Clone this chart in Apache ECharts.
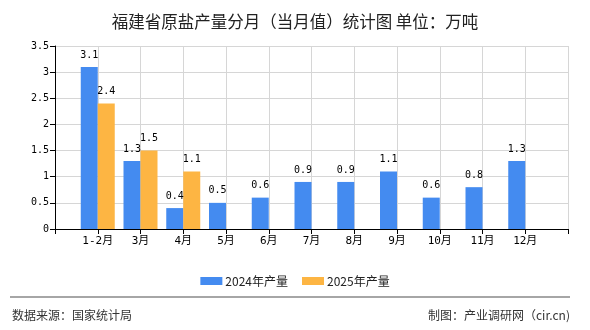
<!DOCTYPE html>
<html>
<head>
<meta charset="utf-8">
<script src="https://cdn.jsdelivr.net/npm/echarts@6/dist/echarts.min.js"></script>
<style>
html,body{margin:0;padding:0;background:#fff;}
#c{width:590px;height:330px;}
</style>
</head>
<body>
<div id="c"></div>
<script>
const titleText = '福建省原盐产量分月（当月值）统计图 单位：万吨';
const categories = ['1-2月','3月','4月','5月','6月','7月','8月','9月','10月','11月','12月'];
const seriesNames = ['2024年产量','2025年产量'];
const values2024 = [3.1, 1.3, 0.4, 0.5, 0.6, 0.9, 0.9, 1.1, 0.6, 0.8, 1.3];
const values2025 = [2.4, 1.5, 1.1];
const yTicks = {min: 0, max: 3.5, interval: 0.5};
const sourceText = '数据来源：国家统计局';
const creditText = '制图：产业调研网（cir.cn)';

const numFont = '"DejaVu Sans Mono", "Noto Sans CJK SC", monospace';
const cjkFont = '"Noto Sans CJK SC", sans-serif';

// padded category axis: an empty slot at each end, points on ticks
const axisCats = [''].concat(categories, ['']);
function pad(arr) {
  const out = ['-'];
  for (let i = 0; i < categories.length; i++) out.push(i < arr.length ? arr[i] : '-');
  out.push('-');
  return out;
}

const chart = echarts.init(document.getElementById('c'), null, {renderer: 'canvas'});
chart.setOption({
  animation: false,
  backgroundColor: '#ffffff',
  title: {
    text: titleText,
    left: 'center',
    top: 8,
    textStyle: {fontFamily: cjkFont, fontSize: 16.5, fontWeight: 'normal', color: '#222'}
  },
  legend: {
    data: seriesNames,
    left: 'center',
    top: 270,
    itemWidth: 22,
    itemHeight: 8,
    itemGap: 14,
    icon: 'rect',
    textStyle: {fontFamily: cjkFont, fontSize: 12, color: '#222', padding: [0,0,0,-2]}
  },
  grid: {left: 55, right: 22, top: 46, bottom: 101, containLabel: false},
  xAxis: {
    type: 'category',
    data: axisCats,
    boundaryGap: false,
    axisLine: {lineStyle: {color: '#000', width: 1}},
    axisTick: {show: true, length: 5, lineStyle: {color: '#000'}},
    axisLabel: {fontFamily: numFont, fontSize: 11, color: '#000', margin: 7, interval: 0},
    splitLine: {show: true, lineStyle: {color: '#d6d6d6', width: 1}}
  },
  yAxis: {
    type: 'value',
    min: yTicks.min, max: yTicks.max, interval: yTicks.interval,
    axisLine: {show: true, lineStyle: {color: '#000', width: 1}},
    axisTick: {show: true, length: 5, lineStyle: {color: '#000'}},
    axisLabel: {fontFamily: numFont, fontSize: 10, color: '#000', margin: 6},
    splitLine: {show: true, lineStyle: {color: '#d6d6d6', width: 1}}
  },
  series: [
    {
      name: seriesNames[0], type: 'bar', data: pad(values2024),
      barWidth: 17, barGap: '0%',
      itemStyle: {color: '#448bf0'},
      label: {show: true, position: 'top', distance: 7, fontFamily: numFont, fontSize: 10, color: '#000'}
    },
    {
      name: seriesNames[1], type: 'bar', data: pad(values2025),
      barWidth: 17, barGap: '0%',
      itemStyle: {color: '#fdb543'},
      label: {show: true, position: 'top', distance: 7, fontFamily: numFont, fontSize: 10, color: '#000'}
    }
  ],
  graphic: [
    {type: 'line', shape: {x1: 10, y1: 297, x2: 570, y2: 297}, style: {stroke: '#888', lineWidth: 1.5}},
    {type: 'text', left: 12, top: 309, style: {text: sourceText, font: '12px "Noto Sans CJK SC", sans-serif', fill: '#333'}},
    {type: 'text', right: 20, top: 309, style: {text: creditText, font: '12px "Noto Sans CJK SC", sans-serif', fill: '#333'}}
  ]
});
</script>
</body>
</html>
